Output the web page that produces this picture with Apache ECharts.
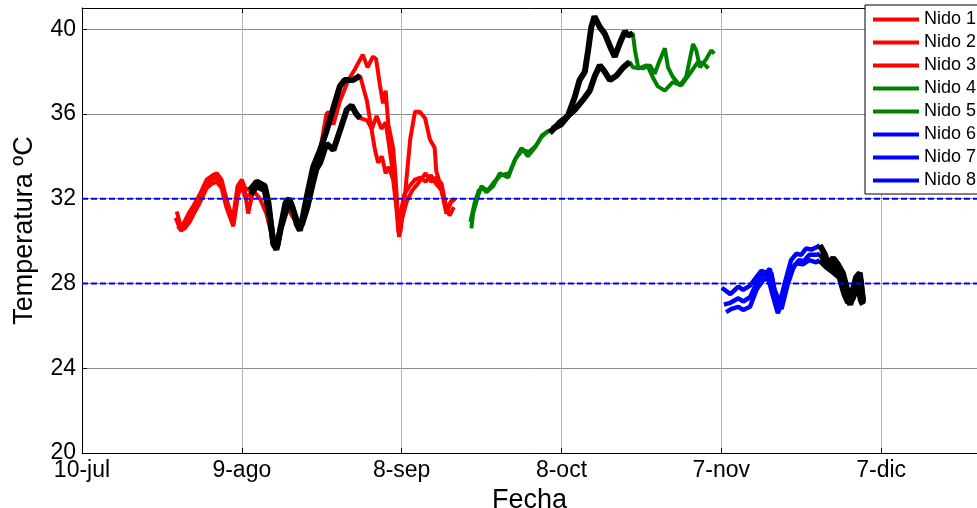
<!DOCTYPE html>
<html>
<head>
<meta charset="utf-8">
<script src="https://cdn.jsdelivr.net/npm/echarts@6/dist/echarts.min.js"></script>
<style>
  html, body { margin: 0; padding: 0; background: #fff; }
  #chart { width: 977px; height: 508px; }
</style>
</head>
<body>
<div id="chart"></div>
<script>
// x = days since 10-jul, y = temperatura (ºC)
var tickLabels = ['10-jul', '9-ago', '8-sep', '8-oct', '7-nov', '7-dic'];
var yTicks = [20, 24, 28, 32, 36, 40];
var refTemps = [32, 28];
var nidoNames = ['Nido 1', 'Nido 2', 'Nido 3', 'Nido 4', 'Nido 5', 'Nido 6', 'Nido 7', 'Nido 8'];

// red nests
var nido1 = [[17.8,31.4],[18.3,30.9],[19,30.6],[20,31.1],[20.9,31.5],[22.1,32.0],[23.4,32.7],[24.3,32.9],[25.3,33.0],[26.2,32.7],[27.1,31.8],[28.4,30.8],[29.3,32.4],[30,32.8],[30.6,32.3],[31.2,31.3],[32.1,32.4],[33.4,32.0],[34.6,31.3],[35.3,30.6],[36.5,29.8],[38.2,31.7],[40.9,30.6],[42.2,31.9],[43.4,33.2],[44.7,34.3],[45.9,36.0],[46.3,36.1],[47.2,35.5],[48.4,36.6],[50,37.6],[51.2,38.1],[52.7,38.8],[53.6,38.2],[54.6,38.7],[55.2,38.6],[55.9,37.4],[56.5,36.5],[57,37.1],[57.5,35.5],[58.4,34.4],[58.8,33.2],[59.2,31.6],[59.5,30.2],[59.8,30.5],[60.6,32.1],[61.6,34.8],[62.5,36.1],[63.4,36.1],[64.4,35.8],[65.3,34.8],[66.2,34.4],[66.5,33.3],[67.2,32.7],[68.4,31.3],[69.1,31.8],[69.6,32.0]];
var nido2 = [[17.6,31.1],[18.2,30.7],[19,30.8],[20,31.3],[21,31.7],[22.1,32.2],[23.4,32.9],[24.5,33.1],[25.3,33.2],[26.2,32.9],[27.1,32.0],[28.3,31.0],[29.2,32.6],[30,32.9],[30.6,32.5],[31.5,32.4],[32.8,32.8],[34.3,32.6],[35,31.8],[35.9,29.9],[36.5,29.6],[37.1,30.4],[38.2,31.8],[38.9,32.0],[39.6,31.5],[40.3,30.8],[40.9,30.5],[41.5,31.2],[42.2,32.1],[43.4,33.5],[44.7,34.3],[45.9,35.2],[47.2,36.3],[48.4,37.3],[49.3,37.6],[50.9,37.6],[52.2,37.8],[53.5,36.6],[54.2,35.5],[55,34.3],[55.6,33.7],[56.3,34.0],[57,33.2],[57.6,33.5],[58.4,32.9],[59,31.6],[59.4,30.4],[60,31.0],[61,31.9],[62,32.4],[63,32.7],[64.5,33.2],[65.5,32.8],[66.5,33.0],[67.5,32.7],[68.5,31.4],[69.2,31.8],[70,32.0]];
var nido3 = [[18,30.7],[18.6,30.5],[19.3,30.6],[20.2,30.9],[21,31.3],[22.1,31.8],[23.4,32.5],[24.3,32.7],[25.3,32.8],[26.2,32.5],[27.1,31.6],[28.4,30.7],[29.3,32.2],[30,32.6],[30.6,32.1],[31.7,32.2],[32.8,32.6],[34.3,32.4],[35.2,31.2],[36,29.8],[36.6,29.7],[37.3,30.6],[38.5,31.6],[39.2,31.8],[40,31.2],[40.8,30.6],[41.3,30.8],[42.3,31.6],[43.2,32.6],[44,33.4],[44.7,33.7],[45.9,34.6],[47.2,34.3],[48.4,35.2],[49.7,36.2],[50.6,36.4],[51.5,36.0],[52.2,35.8],[53.5,35.7],[54.4,35.3],[55.3,35.9],[56.2,35.3],[57,35.6],[57.6,34.6],[58.2,33.5],[58.8,32.5],[59.3,31.0],[59.7,31.2],[60.5,32.2],[61.5,32.6],[62.5,32.9],[63.5,33.0],[64.5,32.8],[65.5,33.1],[66.5,32.7],[67.5,32.4],[68.4,31.6],[69,31.2],[69.8,31.6]];

// green nests
var nido4 = [[73.1,30.6],[73.4,31.3],[74.3,32.1],[75,32.6],[75.9,32.3],[77.2,32.6],[78.4,33.2],[80,33.0],[81.2,33.8],[82.5,34.4],[83.7,34.0],[85,34.4],[86.2,34.9],[87.5,35.2],[88.1,35.2],[89.7,35.6],[91.2,35.9],[92.5,36.8],[93.4,37.6],[94.4,38.0],[95,39.0],[95.6,40.1],[96.2,40.6],[97.2,40.1],[98.1,39.8],[99.1,39.2],[100,38.7],[100.9,39.3],[101.9,39.9],[102.5,39.7],[103.4,39.8],[103.8,39.0],[104.4,38.2],[105.3,38.15],[106.6,38.3],[107.5,37.9],[108.4,38.5],[109.4,39.1],[110,38.2],[110.9,37.75],[112.2,37.35],[113.4,37.75],[114.7,39.3],[115.3,39.0],[116,38.2],[117.2,38.6],[118.1,39.0],[118.7,38.85]];
var nido5 = [[72.9,30.9],[73.7,31.8],[74.5,32.4],[75.3,32.5],[76.2,32.4],[77.4,32.8],[78.6,33.1],[80.2,33.2],[81.4,33.9],[82.7,34.3],[83.9,34.2],[85.2,34.5],[86.4,35.0],[87.6,35.2],[88.3,35.3],[89.9,35.5],[91.2,35.9],[92.5,36.2],[94,36.65],[95.3,37.1],[96.2,37.75],[97.2,38.3],[98.1,38.0],[99.1,37.6],[100.3,37.8],[101.6,38.2],[102.8,38.45],[103.4,38.2],[104.5,38.15],[106.1,38.3],[107.2,37.7],[108.1,37.3],[109.4,37.1],[110.9,37.5],[112.5,37.35],[114.1,37.9],[115.6,38.45],[116.6,38.4],[117.6,38.15]];

// blue nests
var nido6 = [[120.1,27.8],[121.7,27.5],[123.2,27.85],[124.1,27.7],[125.4,27.9],[126.6,28.3],[127.5,28.6],[128.5,28.5],[129.1,28.7],[130,27.7],[131,27.1],[131.9,28.0],[133.1,29.1],[134.1,29.4],[135,29.35],[135.9,29.65],[136.9,29.6],[137.8,29.7],[138.5,29.8]];
var nido7 = [[120.5,27.0],[121.8,27.1],[123.2,27.3],[124.1,27.15],[125.4,27.35],[126.6,28.0],[127.6,28.4],[128.6,28.35],[129.4,28.5],[130.3,27.2],[131.3,26.8],[132.4,27.9],[133.6,28.8],[134.6,29.1],[135.5,29.05],[136.5,29.35],[137.8,29.35],[138.5,29.4]];
var nido8 = [[120.9,26.65],[121.9,26.8],[123.2,26.9],[124.1,26.75],[125.4,26.9],[126.6,27.7],[127.8,28.15],[128.8,28.25],[129.7,27.4],[130.6,26.6],[131.6,27.2],[132.8,28.5],[134.1,28.95],[135.3,28.9],[136.5,29.1],[137.8,29.0],[138.5,29.1]];

// black stretches drawn over the nests
var negroA1 = [[31.5,32.4],[32.8,32.8],[34.3,32.6],[35,31.8],[35.9,29.9],[36.5,29.6],[37.1,30.4],[38.2,31.8],[38.9,32.0],[39.6,31.5],[40.3,30.8],[40.9,30.5],[41.5,31.2],[42.2,32.1],[43.4,33.5],[44.7,34.3],[45.9,35.2],[47.2,36.3],[48.4,37.3],[49.3,37.6],[50.9,37.6],[52.2,37.8]];
var negroA2 = [[31.7,32.2],[32.8,32.6],[34.3,32.4],[35.2,31.2],[36,29.8],[36.6,29.7],[37.3,30.6],[38.5,31.6],[39.2,31.8],[40,31.2],[40.8,30.6],[41.3,30.8],[42.3,31.6],[43.2,32.6],[44,33.4],[44.7,33.7],[45.9,34.6],[47.2,34.3],[48.4,35.2],[49.7,36.2],[50.6,36.4],[51.5,36.0],[52.2,35.8]];
var negroB1 = [[87.8,35.1],[89.7,35.6],[91.2,35.9],[92.5,36.8],[93.4,37.6],[94.4,38.0],[95,39.0],[95.6,40.1],[96.2,40.6],[97.2,40.1],[98.1,39.8],[99.1,39.2],[100,38.7],[100.9,39.3],[101.9,39.9],[102.5,39.7],[103.4,39.8]];
var negroB2 = [[88.3,35.3],[89.9,35.5],[91.2,35.9],[92.5,36.2],[94,36.65],[95.3,37.1],[96.2,37.75],[97.2,38.3],[98.1,38.0],[99.1,37.6],[100.3,37.8],[101.6,38.2],[102.8,38.45]];
var negroC1 = [[138.5,29.8],[139.4,29.4],[140,28.95],[141,29.2],[141.9,28.9],[142.8,28.5],[143.5,27.85],[144.1,27.2],[144.7,27.7],[145.3,28.3],[146,28.5],[146.6,27.2]];
var negroC2 = [[138.5,29.4],[139.5,29.1],[140.2,28.7],[141,28.9],[142,28.6],[142.9,28.0],[143.6,27.4],[144.2,27.0],[144.8,27.5],[145.4,28.1],[146.1,28.2],[146.6,27.1]];
var negroC3 = [[138.5,29.1],[139.7,28.8],[141,28.55],[142.2,28.3],[143.1,27.5],[143.8,27.1],[144.7,27.3],[145.6,28.0],[146.2,27.2],[146.6,27.0]];

var xMax = 168;
var font = 'Liberation Sans, Arial, Helvetica, sans-serif';

var nidoData = [nido1, nido2, nido3, nido4, nido5, nido6, nido7, nido8];
var nidoColors = ['#ff0000', '#ff0000', '#ff0000', '#008000', '#008000', '#0000ff', '#0000ff', '#0000ff'];
var negros = [negroA1, negroA2, negroB1, negroB2, negroC1, negroC2, negroC3];

var series = [];
nidoData.forEach(function (d, i) {
    series.push({
        name: nidoNames[i], type: 'line', data: d, showSymbol: false, symbol: 'none',
        color: nidoColors[i],
        lineStyle: { width: i >= 5 ? 4.5 : 4, color: nidoColors[i] }
    });
});
negros.forEach(function (d, i) {
    series.push({
        name: 'negro' + i, type: 'line', data: d, showSymbol: false, symbol: 'none',
        lineStyle: { width: 6, color: '#000' }
    });
});
refTemps.forEach(function (t, i) {
    series.push({
        name: 'ref' + i, type: 'line', data: [[0, t], [xMax, t]], showSymbol: false, symbol: 'none',
        lineStyle: { width: 2, color: '#0000ff', type: [6, 3] }
    });
});

var chart = echarts.init(document.getElementById('chart'));
chart.setOption({
    animation: false,
    backgroundColor: '#fff',
    textStyle: { fontFamily: font },
    grid: { left: 82, top: 8, right: 0, bottom: 55, containLabel: false, outerBoundsMode: 'none' },
    legend: {
        data: nidoNames,
        orient: 'vertical',
        left: 865, top: 5,
        icon: 'rect',
        itemWidth: 46, itemHeight: 4, itemGap: 4,
        padding: [5, 30, 4, 8],
        borderColor: '#000', borderWidth: 1,
        backgroundColor: '#fff',
        textStyle: { fontSize: 18, color: '#000', lineHeight: 19, fontFamily: font }
    },
    xAxis: [{
        type: 'value', min: 0, max: xMax, interval: 30,
        name: 'Fecha', nameLocation: 'middle', nameGap: 28,
        nameTextStyle: { fontSize: 27, color: '#000', fontFamily: font },
        axisLine: { lineStyle: { color: '#000', width: 1 } },
        axisTick: { inside: true, length: 5, lineStyle: { color: '#000' } },
        axisLabel: {
            fontSize: 23, color: '#000', margin: 6, fontFamily: font, showMaxLabel: false,
            formatter: function (v) { return tickLabels[v / 30] || ''; }
        },
        splitLine: { show: true, lineStyle: { color: '#b4b4b4', width: 1 } }
    }, {
        type: 'value', min: 0, max: xMax, interval: 30, position: 'top',
        axisLine: { lineStyle: { color: '#000', width: 1 } },
        axisTick: { inside: true, length: 5, lineStyle: { color: '#000' } },
        axisLabel: { show: false },
        splitLine: { show: false }
    }],
    yAxis: {
        type: 'value', min: 20, max: 41, interval: 4,
        name: 'Temperatura ºC', nameLocation: 'middle', nameGap: 44,
        nameTextStyle: { fontSize: 27, color: '#000', fontFamily: font },
        axisLine: { show: true, lineStyle: { color: '#000', width: 1 } },
        axisTick: { show: true, inside: true, length: 5, lineStyle: { color: '#000' } },
        axisLabel: {
            fontSize: 23, color: '#000', margin: 6, fontFamily: font, showMaxLabel: false,
            formatter: function (v) { return yTicks.indexOf(v) >= 0 ? String(v) : ''; }
        },
        splitLine: { show: true, lineStyle: { color: '#8c8c8c', width: 1 } }
    },
    series: series
});
</script>
</body>
</html>
